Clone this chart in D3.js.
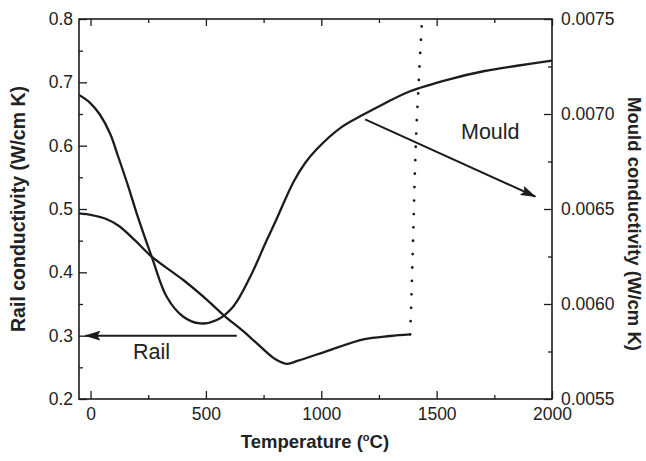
<!DOCTYPE html>
<html>
<head>
<meta charset="utf-8">
<script src="https://cdn.jsdelivr.net/npm/d3@7/dist/d3.min.js"></script>
<style>
  html, body { margin: 0; padding: 0; background: #fff; }
  svg text { font-family: "Liberation Sans", Arial, Helvetica, sans-serif; fill: #222; }
</style>
</head>
<body>
<svg id="chart" width="646" height="461"></svg>
<script>
// Rail conductivity (left axis, W/cm K) against temperature (°C)
const railTemp  = [-50, 5, 63, 120, 193, 265, 402, 489, 576, 663, 721, 800, 850, 900, 1038, 1183, 1299, 1385];
const railValue = [0.4932, 0.4905, 0.4850, 0.4739, 0.4505, 0.4248, 0.3879, 0.3616, 0.3326, 0.3066, 0.2879, 0.2631, 0.2556, 0.2605, 0.2773, 0.2942, 0.2995, 0.3021];

// Rail conductivity jump above the melting range (dotted)
const railJumpTemp  = [1385, 1389, 1397, 1411, 1437];
const railJumpValue = [0.302, 0.34, 0.44, 0.614, 0.80];

// Mould conductivity (right axis, W/cm K)
const mouldTemp  = [-50, -2, 41, 85, 120, 164, 200, 265, 330, 402, 475, 547, 618, 692, 764, 800, 879, 930, 981, 1082, 1183, 1270, 1385, 1559, 1703, 1848, 2000];
const mouldValue = [0.007100, 0.007059, 0.006996, 0.006896, 0.006775, 0.006617, 0.006477, 0.006249, 0.006038, 0.005933, 0.005898, 0.005916, 0.005986, 0.006143, 0.006337, 0.006430, 0.006641, 0.006742, 0.006816, 0.006926, 0.006997, 0.007053, 0.007120, 0.007184, 0.007225, 0.007254, 0.007281];

// Tick values
const xTicks       = [0, 500, 1000, 1500, 2000];
const xMinorTicks  = [250, 750, 1250, 1750];
const yLeftTicks   = [0.2, 0.3, 0.4, 0.5, 0.6, 0.7, 0.8];
const yLeftMinor   = [0.25, 0.35, 0.45, 0.55, 0.65, 0.75];
const yRightTicks  = [0.0055, 0.0060, 0.0065, 0.0070, 0.0075];
const yRightMinor  = [0.00575, 0.00625, 0.00675, 0.00725];

// Annotation arrows (temperature, conductivity on the axis they point to)
const railArrow  = { from: [634, 0.30], to: [-22, 0.30] };
const mouldArrow = { from: [1190, 0.006972], to: [1928, 0.006565] };

const svg = d3.select("#chart");
const plotLeft = 79, plotRight = 552, plotTop = 19, plotBottom = 399;

const x  = d3.scaleLinear().domain([-50, 2000]).range([plotLeft, plotRight]);
const yL = d3.scaleLinear().domain([0.2, 0.8]).range([plotBottom, plotTop]);
const yR = d3.scaleLinear().domain([0.0055, 0.0075]).range([plotBottom, plotTop]);

const ink = "#1c1c1c";
const tickFont = "17.5px";

function styleAxis(g) {
  g.select(".domain").remove();
  g.selectAll(".tick line").attr("stroke", ink).attr("stroke-width", 1.3);
  g.selectAll(".tick text").style("font-size", tickFont).attr("fill", "#222");
}

// Bottom axis with labels
svg.append("g").attr("transform", `translate(0,${plotBottom})`)
  .call(d3.axisBottom(x).tickValues(xTicks).tickFormat(d3.format("d")).tickSizeInner(-8).tickSizeOuter(0).tickPadding(9))
  .call(styleAxis);
svg.append("g").attr("transform", `translate(0,${plotBottom})`)
  .call(d3.axisBottom(x).tickValues(xMinorTicks).tickFormat("").tickSizeInner(-4).tickSizeOuter(0))
  .call(styleAxis);

// Top axis, mirrored ticks
svg.append("g").attr("transform", `translate(0,${plotTop})`)
  .call(d3.axisTop(x).tickValues(xTicks).tickFormat("").tickSizeInner(-7).tickSizeOuter(0))
  .call(styleAxis);
svg.append("g").attr("transform", `translate(0,${plotTop})`)
  .call(d3.axisTop(x).tickValues(xMinorTicks).tickFormat("").tickSizeInner(-4).tickSizeOuter(0))
  .call(styleAxis);

// Left axis
svg.append("g").attr("transform", `translate(${plotLeft},0)`)
  .call(d3.axisLeft(yL).tickValues(yLeftTicks).tickFormat(d3.format(".1f")).tickSizeInner(-8).tickSizeOuter(0).tickPadding(6))
  .call(styleAxis);
svg.append("g").attr("transform", `translate(${plotLeft},0)`)
  .call(d3.axisLeft(yL).tickValues(yLeftMinor).tickFormat("").tickSizeInner(-4).tickSizeOuter(0))
  .call(styleAxis);

// Right axis
svg.append("g").attr("transform", `translate(${plotRight},0)`)
  .call(d3.axisRight(yR).tickValues(yRightTicks).tickFormat(d3.format(".4f")).tickSizeInner(-8).tickSizeOuter(0).tickPadding(9))
  .call(styleAxis);
svg.append("g").attr("transform", `translate(${plotRight},0)`)
  .call(d3.axisRight(yR).tickValues(yRightMinor).tickFormat("").tickSizeInner(-4).tickSizeOuter(0))
  .call(styleAxis);

// Plot frame
svg.append("rect")
  .attr("x", plotLeft).attr("y", plotTop)
  .attr("width", plotRight - plotLeft).attr("height", plotBottom - plotTop)
  .attr("fill", "none").attr("stroke", ink).attr("stroke-width", 1.6);

// Clip curves to the frame
const defs = svg.append("defs");
defs.append("clipPath").attr("id", "plot-clip")
  .append("rect").attr("x", plotLeft).attr("y", plotTop)
  .attr("width", plotRight - plotLeft).attr("height", plotBottom - plotTop);

const plot = svg.append("g").attr("clip-path", "url(#plot-clip)");

const railPts  = railTemp.map((t, i) => [t, railValue[i]]);
const jumpPts  = railJumpTemp.map((t, i) => [t, railJumpValue[i]]);
const mouldPts = mouldTemp.map((t, i) => [t, mouldValue[i]]);

const railLine  = d3.line().x(d => x(d[0])).y(d => yL(d[1])).curve(d3.curveCatmullRom.alpha(0.5));
const jumpLine  = d3.line().x(d => x(d[0])).y(d => yL(d[1])).curve(d3.curveCatmullRom);
const mouldLine = d3.line().x(d => x(d[0])).y(d => yR(d[1])).curve(d3.curveCatmullRom.alpha(0.5));

plot.append("path").datum(mouldPts).attr("d", mouldLine)
  .attr("fill", "none").attr("stroke", ink).attr("stroke-width", 2.3);
plot.append("path").datum(railPts).attr("d", railLine)
  .attr("fill", "none").attr("stroke", ink).attr("stroke-width", 2.3);
plot.append("path").datum(jumpPts).attr("d", jumpLine)
  .attr("fill", "none").attr("stroke", ink).attr("stroke-width", 2.8)
  .attr("stroke-linecap", "round").attr("stroke-dasharray", "0 13.4");

// Arrowheads
defs.append("marker").attr("id", "arrowhead")
  .attr("viewBox", "0 0 16 10").attr("refX", 15).attr("refY", 5)
  .attr("markerWidth", 16).attr("markerHeight", 10)
  .attr("markerUnits", "userSpaceOnUse").attr("orient", "auto")
  .append("path").attr("d", "M0,0 L16,5 L0,10 L3,5 Z").attr("fill", ink);

svg.append("line")
  .attr("x1", x(railArrow.from[0])).attr("y1", yL(railArrow.from[1]))
  .attr("x2", x(railArrow.to[0])).attr("y2", yL(railArrow.to[1]))
  .attr("stroke", ink).attr("stroke-width", 2).attr("marker-end", "url(#arrowhead)");

svg.append("line")
  .attr("x1", x(mouldArrow.from[0])).attr("y1", yR(mouldArrow.from[1]))
  .attr("x2", x(mouldArrow.to[0])).attr("y2", yR(mouldArrow.to[1]))
  .attr("stroke", ink).attr("stroke-width", 2).attr("marker-end", "url(#arrowhead)");

// Series labels
svg.append("text").attr("x", 133).attr("y", 359).style("font-size", "21.5px").text("Rail");
svg.append("text").attr("x", 461).attr("y", 139).style("font-size", "21.5px").text("Mould");

// Axis titles
svg.append("text")
  .attr("transform", "translate(25,209) rotate(-90)")
  .attr("text-anchor", "middle")
  .style("font-size", "19.5px").style("font-weight", "bold")
  .text("Rail conductivity (W/cm K)");

svg.append("text")
  .attr("transform", "translate(628,224) rotate(90)")
  .attr("text-anchor", "middle")
  .style("font-size", "18.5px").style("font-weight", "bold")
  .text("Mould conductivity (W/cm K)");

const xt = svg.append("text")
  .attr("x", 315).attr("y", 448)
  .attr("text-anchor", "middle")
  .style("font-size", "18.5px").style("font-weight", "bold");
xt.append("tspan").text("Temperature (");
xt.append("tspan").attr("dy", -7).style("font-size", "11px").text("o");
xt.append("tspan").attr("dy", 7).text("C)");
</script>
</body>
</html>
